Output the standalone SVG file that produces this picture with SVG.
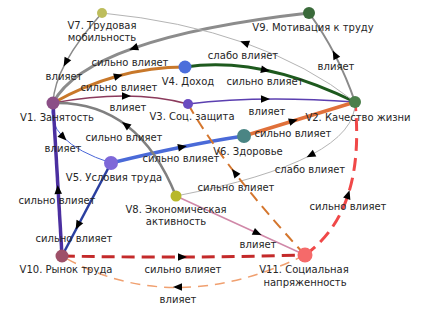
<svg xmlns="http://www.w3.org/2000/svg" width="427" height="316" viewBox="0 0 427 316">
<defs>
<path id="ah" d="M5,0 L-4,-3.8 L-4,3.8 Z" fill="#000"/>
<style>
.e{fill:none;stroke-linecap:butt}
.t{font-family:"DejaVu Sans","Liberation Sans",sans-serif;font-size:10px;fill:#262626;text-anchor:middle}
</style>
</defs>
<rect width="427" height="316" fill="#fff"/>
<g id="connectors">
<path class="e" d="M309,13 Q87,38 53,103" stroke="#8c8c8c" stroke-width="3"/>
<path class="e" d="M102,13 Q54.5,66 53,103" stroke="#8a8a8a" stroke-width="1.5"/>
<path class="e" d="M53,103 Q117,67 185,67" stroke="#c8782a" stroke-width="3"/>
<path class="e" d="M53,103 Q131.5,88.5 188,104" stroke="#8b3a5c" stroke-width="1.5"/>
<path class="e" d="M188,104 Q258.5,95 355,102" stroke="#5b3fb0" stroke-width="1.5"/>
<path class="e" d="M185,67 Q260,55.5 355,102" stroke="#1e5a1e" stroke-width="3"/>
<path class="e" d="M355,102 Q261.5,28.5 102,13" stroke="#b4b4b4" stroke-width="1"/>
<path class="e" d="M355,102 Q338,52.5 309,13" stroke="#8a8a8a" stroke-width="2"/>
<path class="e" d="M244,136 L355,102" stroke="#e0703a" stroke-width="3.5"/>
<path class="e" d="M53,103 Q44,141 111,163" stroke="#4a66d8" stroke-width="1"/>
<path class="e" d="M111,163 Q186.5,144.5 244,136" stroke="#4a6ad8" stroke-width="3.5"/>
<path class="e" d="M176,196 Q137.5,100.5 53,103" stroke="#808080" stroke-width="2.5"/>
<path class="e" d="M62,256 L53,103" stroke="#4b2fa0" stroke-width="3.5"/>
<path class="e" d="M111,163 L62,256" stroke="#2a3fa0" stroke-width="2.5"/>
<path class="e" d="M62,256 Q180.5,258.5 305,255" stroke="#c42a2a" stroke-width="3" stroke-dasharray="13,7"/>
<path class="e" d="M305,255 Q172.5,319.5 62,256" stroke="#f0a070" stroke-width="1.5" stroke-dasharray="10,7"/>
<path class="e" d="M176,196 L305,255" stroke="#d088a8" stroke-width="1.5"/>
<path class="e" d="M305,255 Q366,211.5 355,102" stroke="#f04848" stroke-width="3" stroke-dasharray="13,7"/>
<path class="e" d="M355,102 Q356.5,161 176,196" stroke="#b4b4b4" stroke-width="1"/>
<path class="e" d="M305,255 Q223.5,166.5 188,104" stroke="#d4762e" stroke-width="2" stroke-dasharray="11,7"/>
<use href="#ah" transform="translate(134,48) rotate(160.6)"/>
<use href="#ah" transform="translate(66,62) rotate(118.6)"/>
<use href="#ah" transform="translate(118,76) rotate(-15.3)"/>
<use href="#ah" transform="translate(126,96) rotate(0.4)"/>
<use href="#ah" transform="translate(265,99) rotate(-0.7)"/>
<use href="#ah" transform="translate(265,70) rotate(11.6)"/>
<use href="#ah" transform="translate(245,43) rotate(-160.6)"/>
<use href="#ah" transform="translate(335,55) rotate(-117.3)"/>
<use href="#ah" transform="translate(293,121) rotate(-17)"/>
<use href="#ah" transform="translate(63,137) rotate(46)"/>
<use href="#ah" transform="translate(182,147) rotate(-11.5)"/>
<use href="#ah" transform="translate(126,125) rotate(-142.9)"/>
<use href="#ah" transform="translate(58,190) rotate(-93.4)"/>
<use href="#ah" transform="translate(78,225) rotate(117.8)"/>
<use href="#ah" transform="translate(182,257) rotate(-0.2)"/>
<use href="#ah" transform="translate(178,287) rotate(179.8)"/>
<use href="#ah" transform="translate(257,233) rotate(24.6)"/>
<use href="#ah" transform="translate(348,195) rotate(-71.9)"/>
<use href="#ah" transform="translate(311,155) rotate(152.3)"/>
<use href="#ah" transform="translate(235,173) rotate(-127.8)"/>
<text class="t" x="130" y="65.5">сильно влияет</text>
<text class="t" x="64" y="79.5">влияет</text>
<text class="t" x="119" y="90.5">сильно влияет</text>
<text class="t" x="128" y="110.5">влияет</text>
<text class="t" x="267" y="114.5">влияет</text>
<text class="t" x="265" y="84.5">сильно влияет</text>
<text class="t" x="243" y="58.5">слабо влияет</text>
<text class="t" x="336" y="69.5">влияет</text>
<text class="t" x="293" y="136.5">сильно влияет</text>
<text class="t" x="63" y="151.5">влияет</text>
<text class="t" x="181" y="161.5">сильно влияет</text>
<text class="t" x="124" y="140.5">сильно влияет</text>
<text class="t" x="57" y="203.5">сильно влияет</text>
<text class="t" x="74" y="241.5">сильно влияет</text>
<text class="t" x="183" y="272.5">сильно влияет</text>
<text class="t" x="178" y="302.5">влияет</text>
<text class="t" x="258" y="247.5">влияет</text>
<text class="t" x="348" y="209.5">сильно влияет</text>
<text class="t" x="310" y="172.5">слабо влияет</text>
<text class="t" x="236" y="190.5">сильно влияет</text>
</g>
<g id="V1"><circle cx="53" cy="103" r="6.5" fill="#8b4f87"/><text class="t" x="57" y="120.5">V1. Занятость</text></g>
<g id="V2"><circle cx="355" cy="102" r="6" fill="#4a7f4a"/><text class="t" x="358" y="120.5">V2. Качество жизни</text></g>
<g id="V3"><circle cx="188" cy="104" r="5" fill="#6a4cc0"/><text class="t" x="192" y="119.5">V3. Соц. защита</text></g>
<g id="V4"><circle cx="185" cy="67" r="6.5" fill="#4c6edb"/><text class="t" x="188" y="84.5">V4. Доход</text></g>
<g id="V5"><circle cx="111" cy="163" r="7" fill="#7e68d8"/><text class="t" x="114" y="180.5">V5. Условия труда</text></g>
<g id="V6"><circle cx="244" cy="136" r="7" fill="#4a8584"/><text class="t" x="248" y="154.5">V6. Здоровье</text></g>
<g id="V7"><circle cx="102" cy="13" r="5" fill="#bdbd5c"/><text class="t" x="102" y="28.5">V7. Трудовая</text><text class="t" x="102" y="40.5">мобильность</text></g>
<g id="V8"><circle cx="176" cy="196" r="5.5" fill="#b8b82a"/><text class="t" x="176" y="212.5">V8. Экономическая</text><text class="t" x="176" y="224.5">активность</text></g>
<g id="V9"><circle cx="309" cy="13" r="6" fill="#3a6a3a"/><text class="t" x="313" y="30.5">V9. Мотивация к труду</text></g>
<g id="V10"><circle cx="62" cy="256" r="6.5" fill="#9e5068"/><text class="t" x="66" y="272.5">V10. Рынок труда</text></g>
<g id="V11"><circle cx="305" cy="255" r="7.5" fill="#f56a6a"/><text class="t" x="304" y="272.5">V11. Социальная</text><text class="t" x="305" y="285.5">напряженность</text></g>
</svg>
